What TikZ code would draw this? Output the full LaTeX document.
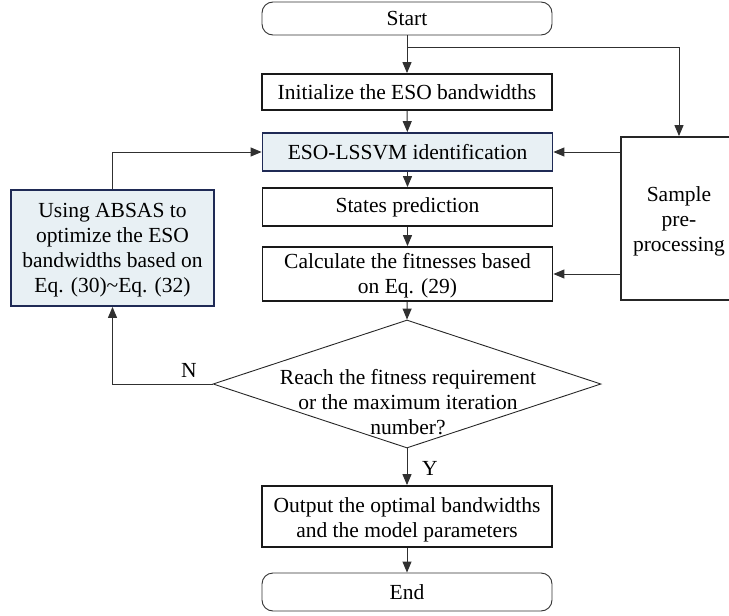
\documentclass[tikz,border=0pt]{standalone}
\usepackage{fontspec}
\setmainfont{Liberation Serif}
\usetikzlibrary{arrows.meta,shapes.geometric}
\definecolor{boxfill}{HTML}{E8F0F4}
\definecolor{navy}{HTML}{1F2A55}
\definecolor{linec}{HTML}{303030}
\begin{document}
\begin{tikzpicture}[x=1pt,y=-1pt,
  every node/.style={font=\fontsize{21.5}{25}\selectfont, inner sep=0pt, align=center},
  procbox/.style={draw=black!90, line width=1.8pt, minimum width=290pt},
  bluebox/.style={procbox, draw=navy, fill=boxfill},
  termbox/.style={draw=black!80, line width=0.9pt, rounded corners=11pt, minimum width=290pt},
  conn/.style={draw=linec, line width=1pt, -{Triangle[length=11pt,width=9pt]}}]
\useasboundingbox (0,0) rectangle (729,616);
\node[termbox, minimum height=33pt] (start) at (407,18.5) {Start};
\node[procbox, minimum height=36pt] (init) at (407,92) {Initialize the ESO bandwidths};
\node[bluebox, minimum height=38pt] (eso) at (407.5,152) {ESO-LSSVM identification};
\node[procbox, minimum height=38pt] (states) at (407.5,207) {States prediction};
\node[procbox, minimum height=54pt] (calc) at (407.5,274) {};
\node at (407.5,276) {Calculate the fitnesses based\\on Eq. (29)};
\node[draw=black!85, line width=1.8pt, minimum width=116pt, minimum height=163pt] (sample) at (679,218.5) {};
\node at (679,221) {Sample\\pre-\\processing};
\node[bluebox, minimum width=203pt, minimum height=116pt] (abs) at (112.5,248) {};
\node at (112.5,250) {Using ABSAS to\\optimize the ESO\\bandwidths based on\\Eq. (30)\char`~Eq. (32)};
\node[diamond, draw=black!85, line width=0.9pt, minimum width=388pt, minimum height=128pt, aspect=3.03] (dec) at (407,384) {};
\node at (408,402) {Reach the fitness requirement\\or the maximum iteration\\number?};
\node[procbox, minimum height=61pt] (out) at (407,516.5) {};
\node at (407,520) {Output the optimal bandwidths\\and the model parameters};
\node[termbox, minimum height=38pt] (end) at (407,592) {End};
\coordinate (branch) at (407,47);
\node (nlab) at (189,370) {N};
\node (ylab) at (430,468) {Y};
\draw[conn] (start) -- (init);
\draw[conn] (branch) -| (sample.north);
\draw[conn] (init) -- (eso);
\draw[conn] (eso) -- (states);
\draw[conn] (states) -- (calc);
\draw[conn] (calc) -- (dec.north);
\draw[conn] (sample.west |- eso.east) -- (eso.east);
\draw[conn] (sample.west |- calc.east) -- (calc.east);
\draw[conn] (abs.north) |- (eso.west);
\draw[conn] (dec.west) -| (abs.south);
\draw[conn] (dec.south) -- (out.north);
\draw[conn] (out) -- (end);
\end{tikzpicture}
\end{document}
